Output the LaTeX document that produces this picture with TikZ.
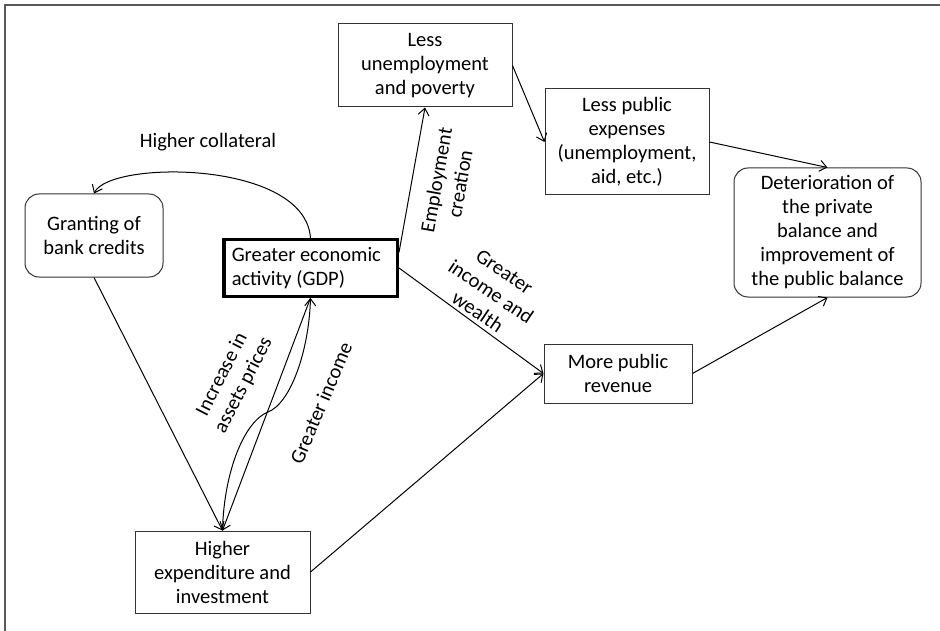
\documentclass[tikz,border=0pt]{standalone}
\usepackage{fontspec}
\setmainfont{Carlito}
\usetikzlibrary{arrows.meta}
\begin{document}
\begin{tikzpicture}[x=1pt,y=-1pt,
  txt/.style={font=\fontsize{20.5}{24}\selectfont},
  box/.style={txt, draw=black!80, line width=1pt, inner sep=0pt, align=center},
  rbox/.style={box, rounded corners=14pt},
  conn/.style={line width=1pt, -{Straight Barb[length=7pt,width=11pt]}},
  lbl/.style={txt, align=center, inner sep=0pt}]
\useasboundingbox (0,0) rectangle (940,631);
\draw[black!65, line width=1.5pt] (5,650) -- (5,5) -- (960,5);

\node[box, minimum width=174pt, minimum height=83pt] (LU) at (425,65.5) {Less\\unemployment\\and poverty};
\node[box, minimum width=164pt, minimum height=106pt] (LPE) at (627,142) {Less public\\expenses\\(unemployment,\\aid, etc.)};
\node[rbox, minimum width=187pt, minimum height=129pt] (DET) at (827.5,232.5) {Deterioration of\\the private\\balance and\\improvement of\\the public balance};
\node[rbox, minimum width=138pt, minimum height=83pt] (GR) at (94,235.5) {Granting of\\bank credits};
\node[box, draw=black, line width=3.5pt, minimum width=173.5pt, minimum height=56.5pt, inner xsep=8pt, text width=157.5pt, align=flush left] (GDP) at (310.5,268) {Greater economic\\activity (GDP)};
\node[box, minimum width=148pt, minimum height=59pt] (MPR) at (618,373.5) {More public\\revenue};
\node[box, minimum width=175pt, minimum height=82pt] (HE) at (222.5,572) {Higher\\expenditure and\\investment};

\draw[conn] (GDP.10) -- (LU.south);
\draw[conn] (GDP.east) -- (MPR.west);
\draw[conn] (LU.east) -- (LPE.west);
\draw[conn] (LPE.east) -- (DET.north);
\draw[conn] (MPR.east) -- (DET.south);
\draw[conn] (HE.east) -- (MPR.west);
\draw[conn] (GR.south) -- (HE.north);
\draw[conn] (GDP.south) -- (HE.north);
\draw[conn] (HE.north) .. controls (224,470) and (245,421) .. (268,412)
  .. controls (291,403) and (309,350) .. (GDP.south);
\draw[conn] (GDP.north) .. controls (305,160) and (110,160) .. (GR.north);

\node[lbl] (lHC) at (208,142) {Higher collateral};
\node[lbl, rotate=80] (lEC) at (448,182) {Employment\\creation};
\node[lbl, rotate=-34] (lGW) at (491,292) {Greater\\income and\\wealth};
\node[lbl, rotate=63] (lAP) at (233,380) {Increase in\\assets prices};
\node[lbl, rotate=67] (lGI) at (321,403) {Greater income};
\end{tikzpicture}
\end{document}
